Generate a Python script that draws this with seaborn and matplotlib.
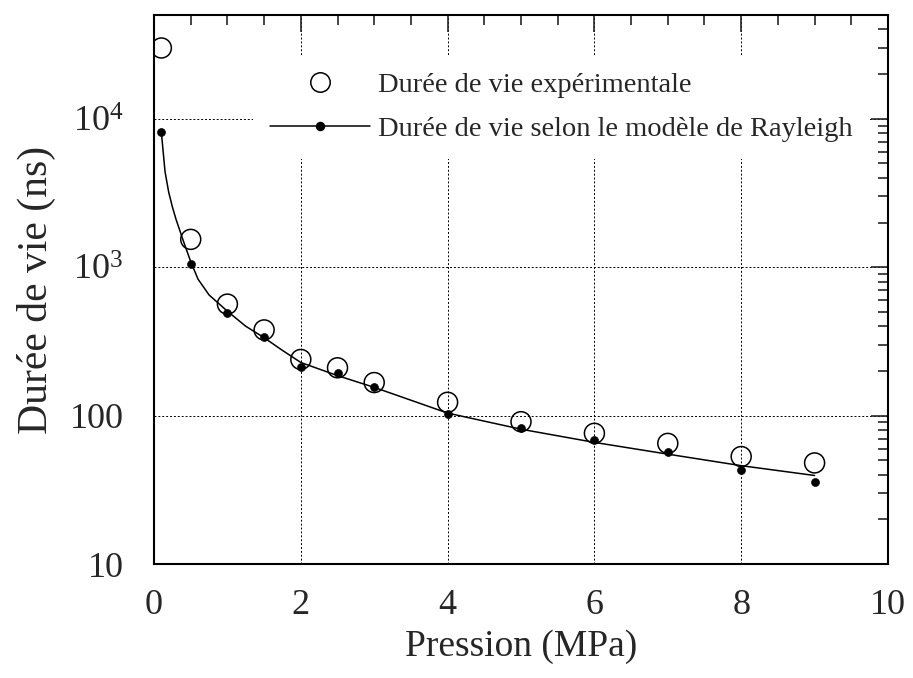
import numpy as np
import pandas as pd
import seaborn as sns
import matplotlib
matplotlib.use("Agg")
import matplotlib.pyplot as plt
from matplotlib.lines import Line2D
from matplotlib.ticker import FixedLocator, FixedFormatter, MultipleLocator, LogLocator, NullFormatter

# measured lifetimes (open circles)
pression = [0.1, 0.5, 1, 1.5, 2, 2.5, 3, 4, 5, 6, 7, 8, 9]
duree_exp = [30000, 1540, 564, 378, 239, 210, 167, 123, 91, 76, 65, 53, 48]
# Rayleigh model values (filled dots)
duree_rayleigh = [8100, 1043, 495, 338, 214, 193, 157, 103, 82, 68, 57, 43, 35.5]

# Rayleigh model curve
courbe_p = [0.1, 0.15, 0.2, 0.25, 0.3, 0.4, 0.5, 0.6, 0.75, 1.0, 1.25, 1.5,
            1.75, 2.0, 2.5, 3.0, 3.5, 4.0, 5.0, 6.0, 7.0, 8.0, 9.0]
courbe_t = [8100, 4400, 3200, 2550, 2100, 1500, 1090, 830, 650, 505, 400, 335,
            275, 228, 186, 155, 127, 104, 81, 66, 55, 46, 39.5]

y_ticks = [10, 100, 1000, 10000]
y_tick_labels = ["10", "100", r"$\mathregular{10^3}$", r"$\mathregular{10^4}$"]
x_ticks = [0, 2, 4, 6, 8, 10]

sns.set_style("white")
plt.rcParams["font.family"] = ["Liberation Serif", "DejaVu Serif"]

fig = plt.figure(figsize=(9.13, 6.78), dpi=100)
ax = fig.add_axes([0.1687, 0.1681, 0.8039, 0.8097])

df_exp = pd.DataFrame({"p": pression, "t": duree_exp})
df_mod = pd.DataFrame({"p": pression, "t": duree_rayleigh})
df_curve = pd.DataFrame({"p": courbe_p, "t": courbe_t})

sns.lineplot(data=df_curve, x="p", y="t", ax=ax, color="black", linewidth=1.1, zorder=3)
sns.scatterplot(data=df_mod, x="p", y="t", ax=ax, color="black", s=33,
                edgecolor="black", zorder=4)
sns.scatterplot(data=df_exp, x="p", y="t", ax=ax, s=207, facecolor="none",
                edgecolor="black", linewidth=1.1, zorder=5)

ax.set_yscale("log")
ax.set_xlim(0, 10)
ax.set_ylim(10, 50000)

ax.xaxis.set_major_locator(FixedLocator(x_ticks))
ax.xaxis.set_minor_locator(MultipleLocator(0.5))
ax.yaxis.set_major_locator(FixedLocator(y_ticks))
ax.yaxis.set_major_formatter(FixedFormatter(y_tick_labels))
ax.yaxis.set_minor_locator(LogLocator(base=10, subs=np.arange(2, 10)))
ax.yaxis.set_minor_formatter(NullFormatter())

ax.tick_params(which="both", direction="in", top=True, right=True, width=1.2)
ax.tick_params(which="major", length=12, labelsize=26)
ax.tick_params(which="minor", length=7)
ax.tick_params(axis="x", which="major", pad=18)
ax.tick_params(axis="y", which="major", pad=22)
for s in ax.spines.values():
    s.set_linewidth(1.5)
    s.set_color("black")

ax.grid(True, which="major", color="black", linestyle=(0, (2, 2)), linewidth=0.7)

ax.set_xlabel("Pression (MPa)", fontsize=27, labelpad=5)
ax.set_ylabel("Durée de vie (ns)", fontsize=30, labelpad=10)

handles = [
    Line2D([], [], linestyle="none", marker="o", markersize=14,
           markerfacecolor="none", markeredgecolor="black", markeredgewidth=1.1),
    Line2D([], [], color="black", linewidth=1.1, marker="o", markersize=5.8),
]
labels = ["Durée de vie expérimentale", "Durée de vie selon le modèle de Rayleigh"]
leg = ax.legend(handles, labels, loc="upper left", bbox_to_anchor=(0.135, 0.928),
                fontsize=20.5, handlelength=3.5, handletextpad=0.3, labelspacing=0.65,
                borderpad=0.6, borderaxespad=0, frameon=True, framealpha=1,
                facecolor="white", edgecolor="none", fancybox=False)
leg.set_zorder(6)

fig.savefig("out.png", dpi=100)
